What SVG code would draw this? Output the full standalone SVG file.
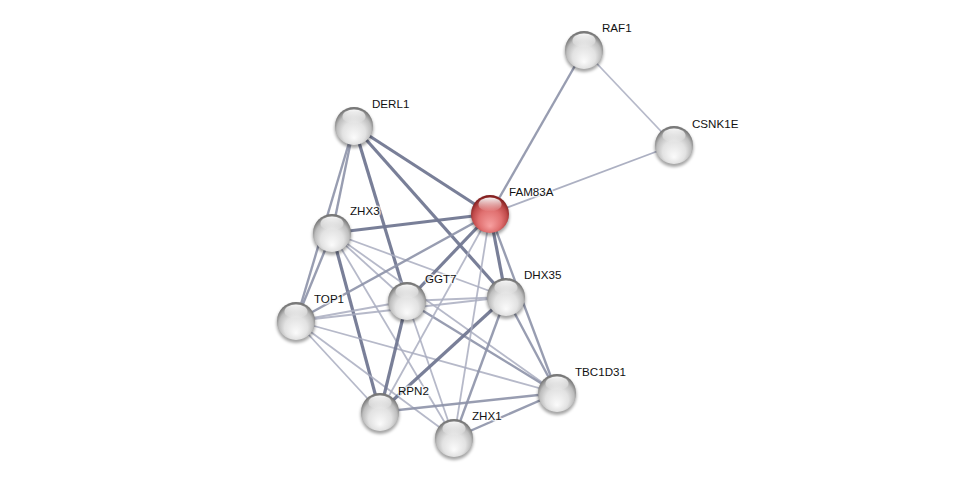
<svg xmlns="http://www.w3.org/2000/svg" width="975" height="483" viewBox="0 0 975 483">
<style>
.e{fill:none;stroke-linecap:butt}
.t{stroke:#727892;stroke-width:3.2;stroke-opacity:0.95}
.m{stroke:#8d92a9;stroke-width:2.4;stroke-opacity:0.9}
.l{stroke:#a9adc0;stroke-width:1.8;stroke-opacity:0.85}
.lbl{font-family:"Liberation Sans",Arial,sans-serif;font-size:11.6px;fill:#111;paint-order:stroke;stroke:#ffffff;stroke-width:3;stroke-opacity:0.7;stroke-linejoin:round}
</style>
<defs>
<radialGradient id="gray" cx="50%" cy="58%" r="55%" fx="50%" fy="82%">
<stop offset="0%" stop-color="#fbfbfb"/>
<stop offset="55%" stop-color="#e2e2e2"/>
<stop offset="82%" stop-color="#bdbdbd"/>
<stop offset="100%" stop-color="#767676"/>
</radialGradient>
<radialGradient id="red" cx="50%" cy="58%" r="55%" fx="50%" fy="82%">
<stop offset="0%" stop-color="#f7a0a0"/>
<stop offset="55%" stop-color="#e07070"/>
<stop offset="82%" stop-color="#bf4a4a"/>
<stop offset="100%" stop-color="#832020"/>
</radialGradient>
<linearGradient id="hl" x1="0" y1="0" x2="0" y2="1">
<stop offset="0%" stop-color="#ffffff" stop-opacity="0.95"/>
<stop offset="100%" stop-color="#ffffff" stop-opacity="0"/>
</linearGradient>
<filter id="sh" x="-50%" y="-50%" width="200%" height="200%">
<feGaussianBlur stdDeviation="1.6"/>
</filter>
<g id="ball">
<circle cx="0" cy="2.5" r="19.5" fill="#000" fill-opacity="0.35" filter="url(#sh)"/>
<circle cx="0" cy="0" r="19" fill="url(#gray)"/>
<ellipse cx="0" cy="-9.5" rx="11.5" ry="7" fill="url(#hl)"/>
</g>
<g id="rball">
<circle cx="0" cy="2.5" r="19.5" fill="#000" fill-opacity="0.35" filter="url(#sh)"/>
<circle cx="0" cy="0" r="19" fill="url(#red)"/>
<ellipse cx="0" cy="-9.5" rx="11.5" ry="7" fill="url(#hl)"/>
</g>
</defs>
<rect width="975" height="483" fill="#ffffff"/>
<g id="connectors" class="e">
<line class="m" x1="584" y1="50" x2="490" y2="214"/>
<line class="l" x1="584" y1="50" x2="674" y2="145"/>
<line class="l" x1="674" y1="145" x2="490" y2="214" style="stroke:#9ea2b7"/>
<line class="t" x1="354" y1="126" x2="490" y2="214"/>
<line class="m" x1="354" y1="126" x2="332" y2="233"/>
<line class="m" x1="354" y1="126" x2="296" y2="321"/>
<line class="t" x1="354" y1="126" x2="407" y2="301"/>
<line class="t" x1="354" y1="126" x2="506" y2="297"/>
<line class="t" x1="332" y1="233" x2="490" y2="214"/>
<line class="m" x1="332" y1="233" x2="296" y2="321"/>
<line class="t" x1="332" y1="233" x2="380" y2="412"/>
<line class="l" x1="332" y1="233" x2="407" y2="301"/>
<line class="l" x1="332" y1="233" x2="506" y2="297"/>
<line class="l" x1="332" y1="233" x2="557" y2="393"/>
<line class="l" x1="332" y1="233" x2="454" y2="438"/>
<line class="m" x1="296" y1="321" x2="490" y2="214"/>
<line class="l" x1="296" y1="321" x2="407" y2="301"/>
<line class="l" x1="296" y1="321" x2="506" y2="297"/>
<line class="l" x1="296" y1="321" x2="380" y2="412"/>
<line class="l" x1="296" y1="321" x2="454" y2="438"/>
<line class="l" x1="296" y1="321" x2="557" y2="393"/>
<line class="t" x1="407" y1="301" x2="490" y2="214"/>
<line class="l" x1="407" y1="301" x2="506" y2="297"/>
<line class="t" x1="407" y1="301" x2="380" y2="412"/>
<line class="l" x1="407" y1="301" x2="454" y2="438"/>
<line class="m" x1="407" y1="301" x2="557" y2="393"/>
<line class="t" x1="506" y1="297" x2="490" y2="214"/>
<line class="t" x1="506" y1="297" x2="380" y2="412"/>
<line class="m" x1="506" y1="297" x2="454" y2="438"/>
<line class="m" x1="506" y1="297" x2="557" y2="393"/>
<line class="m" x1="490" y1="214" x2="557" y2="393"/>
<line class="l" x1="490" y1="214" x2="380" y2="412"/>
<line class="l" x1="490" y1="214" x2="454" y2="438"/>
<line class="m" x1="380" y1="412" x2="557" y2="393"/>
<line class="m" x1="454" y1="438" x2="557" y2="393"/>
</g>
<g id="RAF1"><use href="#ball" x="584" y="50"/><text class="lbl" x="602" y="32">RAF1</text></g>
<g id="CSNK1E"><use href="#ball" x="674" y="145"/><text class="lbl" x="692" y="128">CSNK1E</text></g>
<g id="DERL1"><use href="#ball" x="354" y="126"/><text class="lbl" x="372" y="108">DERL1</text></g>
<g id="FAM83A"><use href="#rball" x="490" y="214"/><text class="lbl" x="509" y="196">FAM83A</text></g>
<g id="ZHX3"><use href="#ball" x="332" y="233"/><text class="lbl" x="350" y="215">ZHX3</text></g>
<g id="TOP1"><use href="#ball" x="296" y="321"/><text class="lbl" x="314" y="303">TOP1</text></g>
<g id="GGT7"><use href="#ball" x="407" y="301"/><text class="lbl" x="425" y="283">GGT7</text></g>
<g id="DHX35"><use href="#ball" x="506" y="297"/><text class="lbl" x="524" y="279">DHX35</text></g>
<g id="TBC1D31"><use href="#ball" x="557" y="393"/><text class="lbl" x="575" y="376">TBC1D31</text></g>
<g id="RPN2"><use href="#ball" x="380" y="412"/><text class="lbl" x="398" y="395">RPN2</text></g>
<g id="ZHX1"><use href="#ball" x="454" y="438"/><text class="lbl" x="472" y="420">ZHX1</text></g>
</svg>
